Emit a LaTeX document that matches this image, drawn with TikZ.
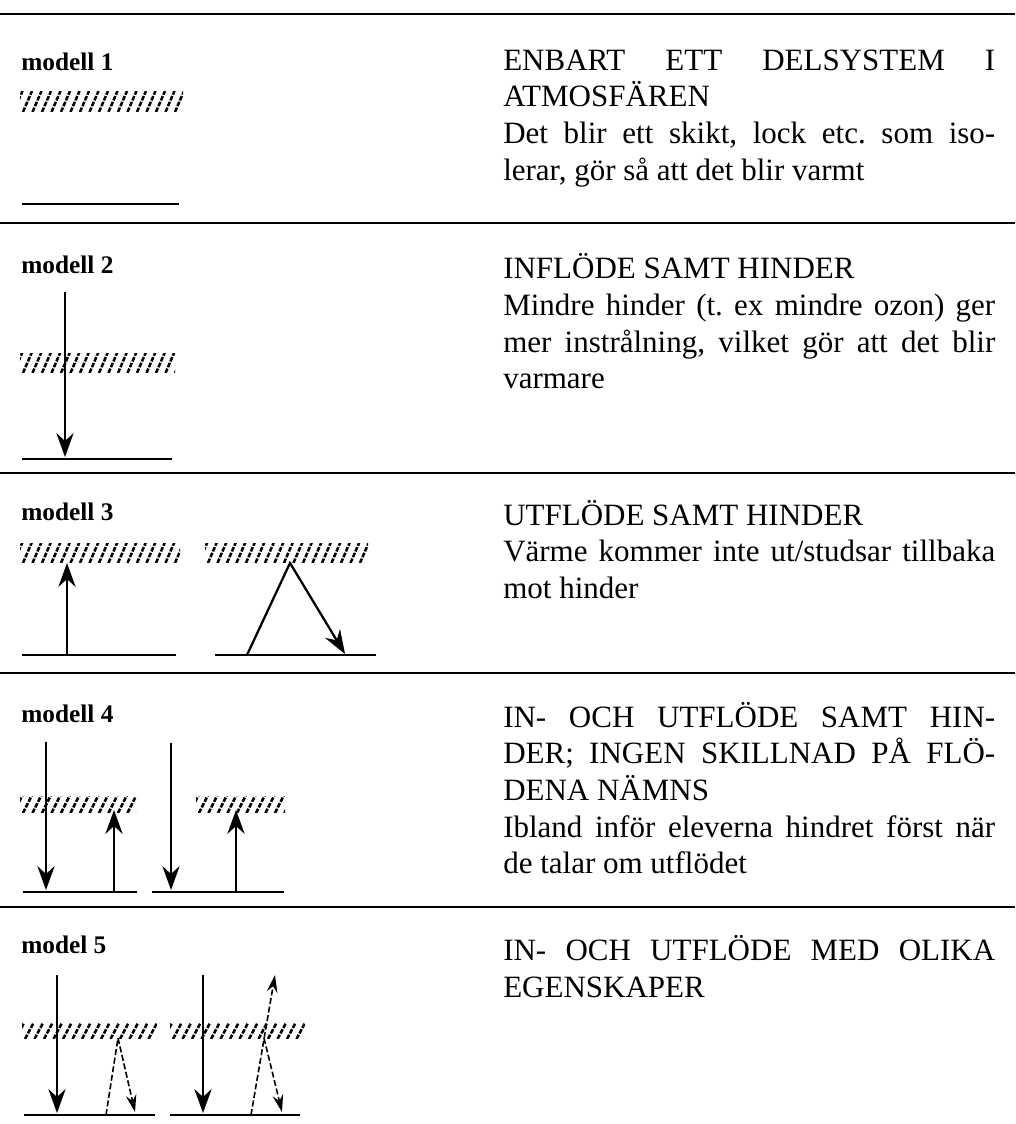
\documentclass[tikz,border=0pt]{standalone}
\usepackage{fontspec}
\setmainfont{Liberation Serif}
\usetikzlibrary{arrows.meta}
\frenchspacing
\newcommand\jline[1]{\makebox[369pt][s]{#1}}
\newcommand\hatchbar[4]{%
  \begin{scope}
    \clip (#1,#2) rectangle (#3,#4);
    \foreach \k in {0,...,24} \draw[hatchline] (#1-16+9.5*\k,#4+1) -- ++(9,#2-#4-2);
  \end{scope}}
\begin{document}
\begin{tikzpicture}[x=0.75pt,y=-0.75pt,
  sepline/.style={line width=2pt},
  ground/.style={line width=2pt},
  hatchline/.style={line width=1.9pt, dash pattern=on 3.6pt off 1.1pt},
  ray/.style={line width=1.1pt, -{Stealth[length=18pt,width=13pt,inset=6pt]}},
  bounce/.style={line width=1.7pt, -{Stealth[length=18pt,width=13pt,inset=6pt]}},
  dray/.style={line width=1.2pt, dash pattern=on 4.5pt off 2pt, -{Stealth[length=13pt,width=8pt,inset=4.5pt]}},
  lbl/.style={font=\fontsize{19}{21}\selectfont\bfseries, anchor=base west, inner sep=0pt},
  txt/.style={font=\fontsize{23.25}{27}\selectfont, anchor=base west, inner sep=0pt}]
\useasboundingbox (0,0) rectangle (1015,1124);

% separators
\foreach \sy in {14,223,473,673,907} \draw[sepline] (0,\sy) -- (1015,\sy);

% labels
\node[lbl] (l1) at (21,71) {modell 1};
\node[lbl] (l2) at (21,273) {modell 2};
\node[lbl] (l3) at (21,520) {modell 3};
\node[lbl] (l4) at (21,722) {modell 4};
\node[lbl] (l5) at (21,953) {model 5};

% texts
\node[txt] (t1a) at (503,70) {\jline{ENBART ETT DELSYSTEM I}};
\node[txt] (t1b) at (503,107) {ATMOSFÄREN};
\node[txt] (t1c) at (503,143) {\jline{Det blir ett skikt, lock etc. som iso-}};
\node[txt] (t1d) at (503,180) {lerar, gör så att det blir varmt};

\node[txt] (t2a) at (503,278) {INFLÖDE SAMT HINDER};
\node[txt] (t2b) at (503,315) {\jline{Mindre hinder (t. ex mindre ozon) ger}};
\node[txt] (t2c) at (503,352) {\jline{mer instrålning, vilket gör att det blir}};
\node[txt] (t2d) at (503,388) {varmare};

\node[txt] (t3a) at (503,525) {UTFLÖDE SAMT HINDER};
\node[txt] (t3b) at (503,561) {\jline{Värme kommer inte ut/studsar tillbaka}};
\node[txt] (t3c) at (503,598) {mot hinder};

\node[txt] (t4a) at (503,727) {\jline{IN- OCH UTFLÖDE SAMT HIN-}};
\node[txt] (t4b) at (503,763) {\jline{DER; INGEN SKILLNAD PÅ FLÖ-}};
\node[txt] (t4c) at (503,800) {DENA NÄMNS};
\node[txt] (t4d) at (503,837) {\jline{Ibland inför eleverna hindret först när}};
\node[txt] (t4e) at (503,873) {de talar om utflödet};

\node[txt] (t5a) at (503,960) {\jline{IN- OCH UTFLÖDE MED OLIKA}};
\node[txt] (t5b) at (503,997) {EGENSKAPER};

% hatched barriers
\hatchbar{20}{92}{183}{111}
\hatchbar{20}{353}{175}{372}
\hatchbar{20}{543}{180}{562}
\hatchbar{205}{543}{368}{562}
\hatchbar{20}{796}{136}{812}
\hatchbar{196}{796}{285}{812}
\hatchbar{22}{1023}{157}{1038}
\hatchbar{170}{1023}{305}{1038}

% ground lines
\draw[ground] (22,204) -- (179,204);
\draw[ground] (22,459) -- (172,459);
\draw[ground] (22,655) -- (176,655);
\draw[ground] (215,655) -- (376,655);
\draw[ground] (23,892) -- (137,892);
\draw[ground] (152,892) -- (284,892);
\draw[ground] (24,1115) -- (155,1115);
\draw[ground] (170,1115) -- (300,1115);

% model 2
\coordinate (a2s) at (65,292); \coordinate (a2e) at (65,457);
\draw[ray] (a2s) -- (a2e);

% model 3
\coordinate (a3s) at (67,655); \coordinate (a3e) at (67,563);
\draw[ray] (a3s) -- (a3e);
\coordinate (b3s) at (247,655); \coordinate (b3m) at (290,563); \coordinate (b3e) at (345,654);
\draw[bounce] (b3s) -- (b3m) -- (b3e);

% model 4
\coordinate (a4s) at (46,742); \coordinate (a4e) at (46,890);
\coordinate (c4s) at (114,892); \coordinate (c4e) at (114,810);
\coordinate (d4s) at (171,743); \coordinate (d4e) at (171,890);
\coordinate (e4s) at (236,892); \coordinate (e4e) at (236,810);
\draw[ray] (a4s) -- (a4e);
\draw[ray] (c4s) -- (c4e);
\draw[ray] (d4s) -- (d4e);
\draw[ray] (e4s) -- (e4e);

% model 5
\coordinate (a5s) at (57,975); \coordinate (a5e) at (57,1113);
\coordinate (d5s) at (203,975); \coordinate (d5e) at (203,1113);
\draw[ray] (a5s) -- (a5e);
\draw[ray] (d5s) -- (d5e);
\coordinate (f5s) at (106,1115); \coordinate (f5m) at (118,1038); \coordinate (f5e) at (135,1112);
\draw[dray] (f5s) -- (f5m) -- (f5e);
\coordinate (g5s) at (251,1115); \coordinate (g5m) at (264,1038); \coordinate (g5t) at (275,975); \coordinate (g5e) at (282,1112);
\draw[dray] (g5s) -- (g5t);
\draw[dray] (g5m) -- (g5e);
\end{tikzpicture}
\end{document}
